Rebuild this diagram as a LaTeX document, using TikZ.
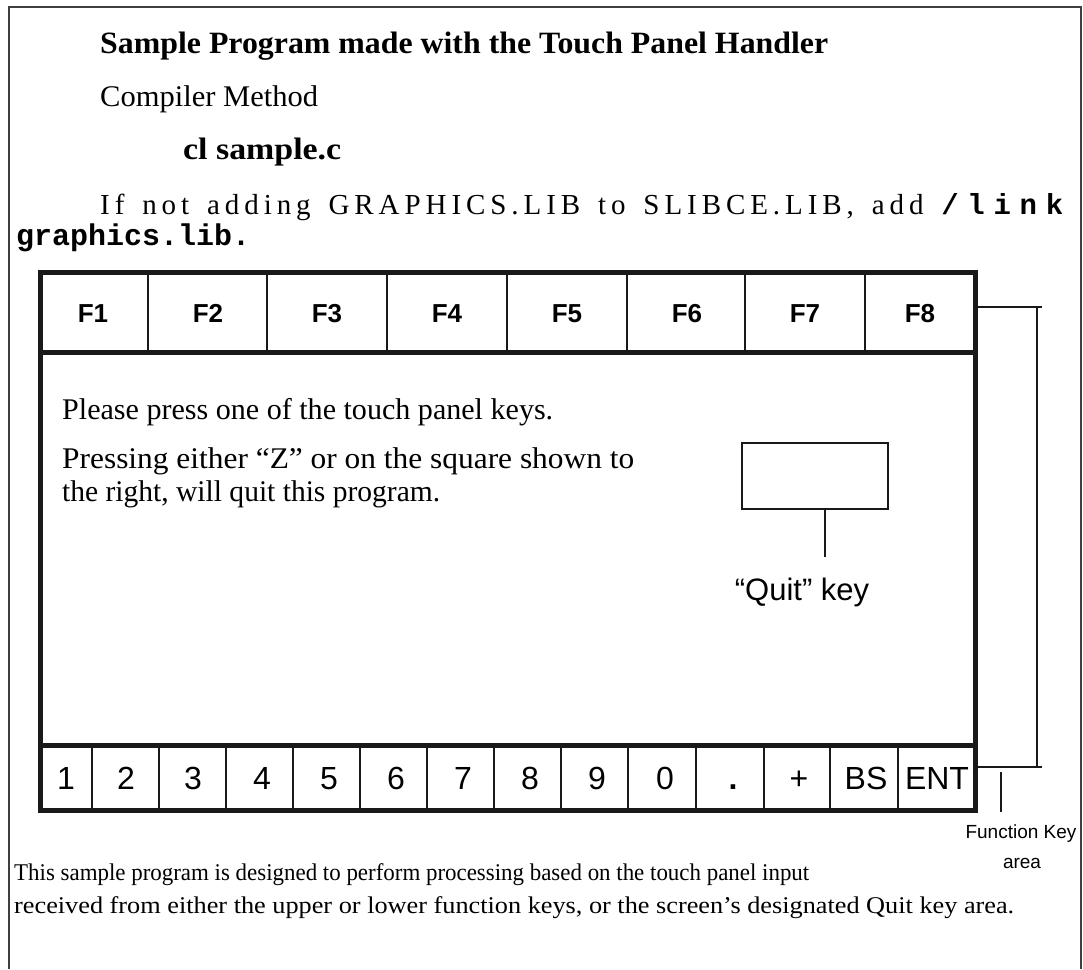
\documentclass[tikz,border=0pt]{standalone}
\usepackage{graphicx}
\usepackage{fontspec}
\setmainfont{Liberation Serif}
\setsansfont{Liberation Sans}
\setmonofont{Liberation Mono}
\newcommand{\fitw}[2]{\resizebox{#1}{\height}{#2}}
\begin{document}
\begin{tikzpicture}[x=1pt,y=-1pt,
  txt/.style={inner sep=0pt,anchor=base west},
  ctxt/.style={inner sep=0pt,anchor=base},
  frame/.style={line width=2pt,draw=black!75},
  thick panel/.style={line width=5pt,draw=black!90},
  thin div/.style={line width=1.6pt,draw=black!90},
  lead/.style={line width=1.6pt,draw=black!90},
  fkey/.style={inner sep=0pt,anchor=base,font=\sffamily\bfseries\fontsize{26}{30}\selectfont},
  nkey/.style={inner sep=0pt,anchor=base,font=\sffamily\fontsize{32}{36}\selectfont},
  body/.style={inner sep=0pt,anchor=base west,font=\fontsize{30}{34}\selectfont}]
\useasboundingbox (0,0) rectangle (1083,969);
% outer frame
\draw[frame] (9,969) -- (9,7) -- (1081,7) -- (1081,969);
% header texts
\node[txt,font=\bfseries\fontsize{31}{34}\selectfont] (title) at (100,53) {\fitw{728pt}{Sample Program made with the Touch Panel Handler}};
\node[txt,font=\fontsize{30}{34}\selectfont] (cm) at (100,106) {\fitw{218pt}{Compiler Method}};
\node[txt,font=\bfseries\fontsize{31}{34}\selectfont] (cl) at (183,159) {\fitw{158pt}{cl sample.c}};
\node[txt,font=\fontsize{29}{32}\selectfont] (ifnot) at (100,214) {\makebox[963pt][s]{\addfontfeature{LetterSpace=17}If not adding GRAPHICS.LIB to SLIBCE.LIB, add {\ttfamily\bfseries\addfontfeature{LetterSpace=30}/link}}};
\node[txt,font=\ttfamily\bfseries\fontsize{30}{34}\selectfont] (gl) at (16,245) {graphics.lib.};
% panel
\draw[thick panel] (40,272) rectangle (975,810);
\draw[thick panel] (40,352) -- (975,352);
\draw[thick panel] (40,745) -- (975,745);
\foreach \x in {148,267,387,507,627,745,865} \draw[thin div] (\x,272) -- (\x,352);
\foreach \x in {92,159,226,293,360,427,494,561,628,696,764,830,898} \draw[thin div] (\x,745) -- (\x,810);
\foreach \x/\l in {93/F1,208/F2,327/F3,447/F4,567/F5,687/F6,805/F7,920/F8}
  \node[fkey] (f\l) at (\x,322) {\l};
\foreach \x/\l/\n in {66/1/k1,126/2/k2,193/3/k3,262/4/k4,329/5/k5,396/6/k6,463/7/k7,530/8/k8,597/9/k9,665/0/k0,733/{\textbf{.}}/kdot,799/+/kplus,866/BS/kbs,937/ENT/kent}
  \node[nkey] (\n) at (\x,789) {\l};
% body text
\node[body] (p1) at (62,419) {\fitw{491pt}{Please press one of the touch panel keys.}};
\node[body] (p2) at (62,468) {\fitw{572pt}{Pressing either “Z” or on the square shown to}};
\node[body] (p3) at (62,501) {\fitw{378pt}{the right, will quit this program.}};
% quit box
\node[draw=black!90,line width=1.6pt,minimum width=146pt,minimum height=66pt,inner sep=0pt] (qbox) at (815,476) {};
\coordinate (qend) at (825,557);
\draw[lead] (qbox.south -| qend) -- (qend);
\node[ctxt,font=\sffamily\fontsize{31}{34}\selectfont] (qlab) at (802,600) {“Quit” key};
% bracket
\coordinate (b1) at (977,307);
\coordinate (b2) at (1042,307);
\coordinate (b4) at (977,767);
\coordinate (b3) at (1042,767);
\coordinate (v1) at (1037,307);
\coordinate (v2) at (1037,767);
\draw[lead] (b1) -- (b2);
\draw[lead] (b4) -- (b3);
\draw[lead] (v1) -- (v2);
\coordinate (l1) at (1001,772);
\coordinate (l2) at (1001,812);
\draw[lead] (l1) -- (l2);
\node[inner sep=0pt,anchor=base,font=\sffamily\fontsize{19}{23}\selectfont] (fka) at (1021,838) {Function Key};
\node[inner sep=0pt,anchor=base,font=\sffamily\fontsize{19}{23}\selectfont] (fka2) at (1022,868) {area};
% bottom paragraph
\node[txt,font=\fontsize{24}{28}\selectfont] (b1t) at (14,880) {\fitw{795pt}{This sample program is designed to perform processing based on the touch panel input}};
\node[txt,font=\fontsize{24}{28}\selectfont] (b2t) at (14,913) {\fitw{1000pt}{received from either the upper or lower function keys, or the screen’s designated Quit key area.}};
\end{tikzpicture}
\end{document}
